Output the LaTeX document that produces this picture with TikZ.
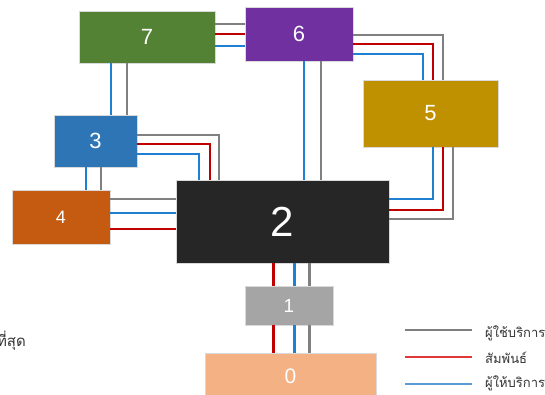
\documentclass[tikz,border=0pt]{standalone}
\usepackage{fontspec}
\newfontfamily\numfont{Liberation Sans}
\newfontfamily\thaifont[Script=Thai]{Loma}
\definecolor{c7}{HTML}{548235}
\definecolor{c6}{HTML}{7030A0}
\definecolor{c5}{HTML}{BF9000}
\definecolor{c3}{HTML}{2E75B6}
\definecolor{c4}{HTML}{C55A11}
\definecolor{c2}{HTML}{262626}
\definecolor{c1}{HTML}{A5A5A5}
\definecolor{c0}{HTML}{F4B183}
\definecolor{wg}{HTML}{808080}
\definecolor{wr}{HTML}{C00000}
\definecolor{wb}{HTML}{1F7FD0}
\definecolor{lg}{HTML}{7F7F7F}
\definecolor{lr}{HTML}{E03838}
\definecolor{lb}{HTML}{5B9BD5}
\begin{document}
\begin{tikzpicture}[x=1pt,y=-1pt,
  box/.style={rectangle, inner sep=0pt, text=white, draw=white!85!black, line width=0.4pt},
  fs/.style={font=\numfont\fontsize{#1}{#1}\selectfont},
  wire/.style={line width=2.3pt},
  gw/.style={wire, draw=wg},
  rw/.style={wire, draw=wr},
  bw/.style={wire, draw=wb},
  legline/.style={line width=2.2pt},
  legtext/.style={anchor=west, inner sep=0pt, font=\thaifont\fontsize{13}{13}\selectfont, text=black!80}]
\useasboundingbox (0,0) rectangle (545,395);
% boxes
\node[box, fill=c7, minimum width=136pt, minimum height=52pt, fs=22] (n7) at (147,37) {7};
\node[box, fill=c6, minimum width=108pt, minimum height=54pt, fs=22] (n6) at (299,34) {6};
\node[box, fill=c5, minimum width=135pt, minimum height=67pt, fs=22] (n5) at (430.5,113.5) {5};
\node[box, fill=c3, minimum width=83pt, minimum height=52pt, fs=22] (n3) at (95.5,141) {3};
\node[box, fill=c4, minimum width=98pt, minimum height=54pt, fs=18] (n4) at (61,217) {4};
\node[box, fill=c2, minimum width=213pt, minimum height=83pt, fs=42] (n2) at (282.5,221.5) {2};
\node[box, fill=c1, minimum width=88pt, minimum height=39pt, fs=19] (n1) at (289,305.5) {1};
\node[box, fill=c0, minimum width=171pt, minimum height=47pt, fs=21] (n0) at (290.5,376.5) {0};
% 7 - 3
\draw[bw] (n7.south -| 111,0) -- (n3.north -| 111,0);
\draw[gw] (n7.south -| 127,0) -- (n3.north -| 127,0);
% 7 - 6
\draw[gw] (n7.east |- 0,24) -- (n6.west |- 0,24);
\draw[rw] (n7.east |- 0,34) -- (n6.west |- 0,34);
\draw[bw] (n7.east |- 0,46) -- (n6.west |- 0,46);
% 6 - 5
\draw[gw] (n6.east |- 0,35) -| (n5.north -| 443,0);
\draw[rw] (n6.east |- 0,44) -| (n5.north -| 433,0);
\draw[bw] (n6.east |- 0,54) -| (n5.north -| 423,0);
% 6 - 2
\draw[bw] (n6.south -| 304,0) -- (n2.north -| 304,0);
\draw[gw] (n6.south -| 321,0) -- (n2.north -| 321,0);
% 3 - 2
\draw[gw] (n3.east |- 0,135) -| (n2.north -| 219,0);
\draw[rw] (n3.east |- 0,144) -| (n2.north -| 210,0);
\draw[bw] (n3.east |- 0,154) -| (n2.north -| 199,0);
% 3 - 4
\draw[bw] (n3.south -| 86,0) -- (n4.north -| 86,0);
\draw[gw] (n3.south -| 101,0) -- (n4.north -| 101,0);
% 4 - 2
\draw[gw] (n4.east |- 0,199) -- (n2.west |- 0,199);
\draw[bw] (n4.east |- 0,213) -- (n2.west |- 0,213);
\draw[rw] (n4.east |- 0,229) -- (n2.west |- 0,229);
% 2 - 5
\draw[bw] (n2.east |- 0,199) -| (n5.south -| 433,0);
\draw[rw] (n2.east |- 0,210) -| (n5.south -| 443,0);
\draw[gw] (n2.east |- 0,219) -| (n5.south -| 453,0);
% 2 - 1
\draw[rw] (n2.south -| 273.5,0) -- (n1.north -| 273.5,0);
\draw[bw] (n2.south -| 294.5,0) -- (n1.north -| 294.5,0);
\draw[gw] (n2.south -| 309.5,0) -- (n1.north -| 309.5,0);
% 1 - 0
\draw[rw] (n1.south -| 273.5,0) -- (n0.north -| 273.5,0);
\draw[bw] (n1.south -| 294.5,0) -- (n0.north -| 294.5,0);
\draw[gw] (n1.south -| 309.5,0) -- (n0.north -| 309.5,0);
% legend
\coordinate (lga) at (405,330); \coordinate (lgb) at (472,330);
\coordinate (lra) at (405,357); \coordinate (lrb) at (472,357);
\coordinate (lba) at (405,384); \coordinate (lbb) at (472,384);
\draw[legline, draw=lg] (lga) -- (lgb);
\draw[legline, draw=lr] (lra) -- (lrb);
\draw[legline, draw=lb] (lba) -- (lbb);
\node[legtext] (t1) at (485,333) {ผู้ใช้บริการ};
\node[legtext] (t2) at (485,358) {สัมพันธ์};
\node[legtext] (t3) at (485,383) {ผู้ให้บริการ};
\node[anchor=east, font=\thaifont\fontsize{15}{15}\selectfont, text=black!80, inner sep=0pt] (tl) at (26,341) {ที่สุด};
\end{tikzpicture}
\end{document}
